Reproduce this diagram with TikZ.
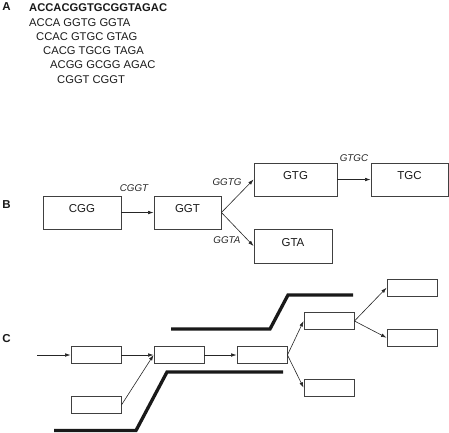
\documentclass[tikz,border=0pt]{standalone}
\usepackage{fontspec}
\setmainfont{Liberation Sans}
\usetikzlibrary{arrows.meta}
\begin{document}
\begin{tikzpicture}[x=1pt,y=-1pt,
  seq/.style={anchor=base west,inner sep=0pt,font=\fontsize{11.2}{13}\selectfont,text=black!90},
  panel/.style={inner sep=0pt,font=\fontsize{11.5}{13}\selectfont\bfseries,text=black!90},
  bbox/.style={draw=black!75,line width=0.9pt,inner sep=0pt,font=\fontsize{11.5}{13}\selectfont,text=black!90,text height=7pt,text depth=7pt},
  cbox/.style={draw=black!75,line width=0.9pt,inner sep=0pt,minimum width=50pt,minimum height=16.5pt},
  elabel/.style={inner sep=0pt,font=\fontsize{9.8}{11}\selectfont\itshape,text=black!85},
  conn/.style={draw=black!85,line width=0.6pt,-{Latex[length=5.5pt,width=3.6pt]}},
  thick/.style={line width=3.3pt,black!90}
]
\useasboundingbox (0,0) rectangle (449,432);
% Panel A
\node[panel] (la) at (6.5,7) {A};
\node[seq,font=\fontsize{11.2}{13}\selectfont\bfseries] (s0) at (29,11) {ACCACGGTGCGGTAGAC};
\node[seq] (s1) at (29,26) {ACCA GGTG GGTA};
\node[seq] (s2) at (36,40.3) {CCAC GTGC GTAG};
\node[seq] (s3) at (43,54.6) {CACG TGCG TAGA};
\node[seq] (s4) at (50,68.9) {ACGG GCGG AGAC};
\node[seq] (s5) at (57,83.2) {CGGT CGGT};
% Panel B
\node[panel] (lb) at (6.5,205) {B};
\node[bbox,minimum width=78pt,minimum height=33pt] (cgg) at (82,212.5) {CGG};
\node[bbox,minimum width=67pt,minimum height=33pt] (ggt) at (187.5,212.5) {GGT};
\node[bbox,minimum width=83pt,minimum height=33pt] (gtg) at (295.5,179.5) {GTG};
\node[bbox,minimum width=77pt,minimum height=33pt] (tgc) at (409.5,179.5) {TGC};
\node[bbox,minimum width=78pt,minimum height=34pt] (gta) at (293,246) {GTA};
\draw[conn] (cgg.east) -- (ggt.west);
\draw[conn] (ggt.east) -- (gtg.west);
\draw[conn] (ggt.east) -- (gta.west);
\draw[conn] (gtg.east) -- (tgc.west);
\node[elabel] (e1) at (134,188) {CGGT};
\node[elabel] (e2) at (227,182.5) {GGTG};
\node[elabel] (e3) at (227,240.5) {GGTA};
\node[elabel] (e4) at (354,158.5) {GTGC};
% Panel C
\node[panel] (lc) at (6.5,339) {C};
\node[cbox] (c1) at (96,355) {};
\node[cbox] (c2) at (96,405) {};
\node[cbox] (c3) at (179,355) {};
\node[cbox] (c4) at (262,355) {};
\node[cbox] (c5) at (329,321) {};
\node[cbox] (c6) at (329,387.7) {};
\node[cbox] (c7) at (412,287.7) {};
\node[cbox] (c8) at (412,337.7) {};
\coordinate (cin) at (37,355);
\draw[conn] (cin) -- (c1.west);
\draw[conn] (c1.east) -- (c3.west);
\draw[conn] (c2.east) -- (c3.west);
\draw[conn] (c3.east) -- (c4.west);
\draw[conn] (c4.east) -- (c5.west);
\draw[conn] (c4.east) -- (c6.west);
\draw[conn] (c5.east) -- (c7.west);
\draw[conn] (c5.east) -- (c8.west);
\draw[thick] (171,329) -- (270,329) -- (288,295) -- (353,295);
\draw[thick] (54,430.5) -- (136,430.5) -- (167,372) -- (283,372);
\end{tikzpicture}
\end{document}
